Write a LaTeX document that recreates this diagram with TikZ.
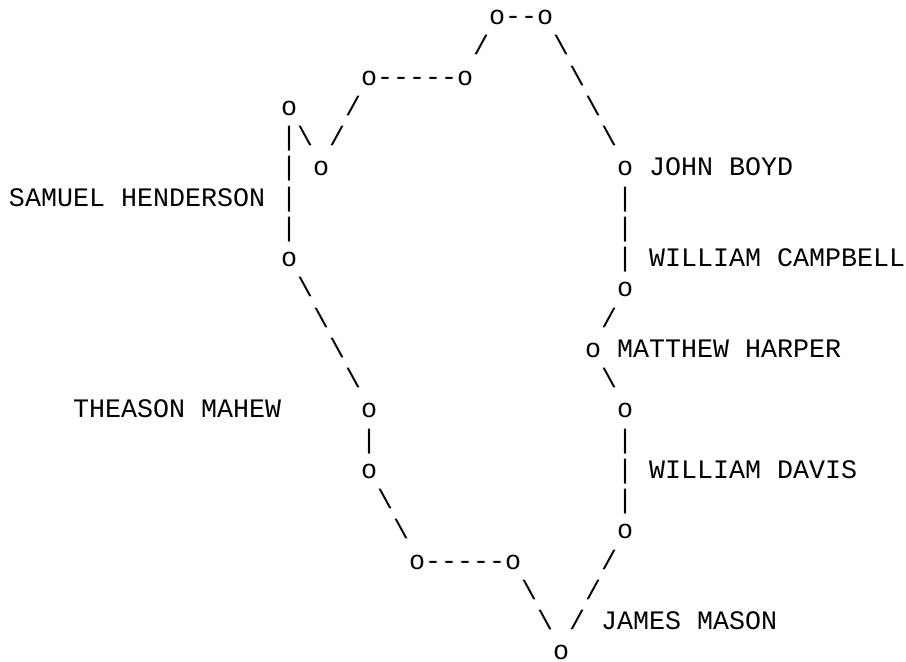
\documentclass[tikz,border=0pt]{standalone}
\usepackage{fontspec}
\setmonofont{Liberation Mono}
\tikzset{asc/.style={inner sep=0pt,outer sep=0pt,anchor=base west,font=\ttfamily\fontsize{26.67}{30.26}\selectfont,text=black}}
\newcommand\seg[4]{\node[asc] (#1) at ({9+16*#2},{24.5+30.26*#3}) {#4};}
\newcommand\bs{\textbackslash}
\begin{document}
\begin{tikzpicture}[x=1pt,y=-1pt]
\useasboundingbox[fill=white] (0,0) rectangle (906,662);
\seg{a0}{30}{0}{o--o}
\seg{a1}{29}{1}{/}
\seg{b1}{34}{1}{\bs}
\seg{a2}{22}{2}{o-----o}
\seg{b2}{35}{2}{\bs}
\seg{a3}{17}{3}{o}
\seg{b3}{21}{3}{/}
\seg{c3}{36}{3}{\bs}
\seg{a4}{17}{4}{|}
\seg{b4}{18}{4}{\bs}
\seg{c4}{20}{4}{/}
\seg{d4}{37}{4}{\bs}
\seg{a5}{17}{5}{|}
\seg{b5}{19}{5}{o}
\seg{c5}{38}{5}{o JOHN BOYD}
\seg{a6}{0}{6}{SAMUEL HENDERSON |}
\seg{b6}{38}{6}{|}
\seg{a7}{17}{7}{|}
\seg{b7}{38}{7}{|}
\seg{a8}{17}{8}{o}
\seg{b8}{38}{8}{| WILLIAM CAMPBELL}
\seg{a9}{18}{9}{\bs}
\seg{b9}{38}{9}{o}
\seg{a10}{19}{10}{\bs}
\seg{b10}{37}{10}{/}
\seg{a11}{20}{11}{\bs}
\seg{b11}{36}{11}{o MATTHEW HARPER}
\seg{a12}{21}{12}{\bs}
\seg{b12}{37}{12}{\bs}
\seg{a13}{4}{13}{THEASON MAHEW}
\seg{b13}{22}{13}{o}
\seg{c13}{38}{13}{o}
\seg{a14}{22}{14}{|}
\seg{b14}{38}{14}{|}
\seg{a15}{22}{15}{o}
\seg{b15}{38}{15}{| WILLIAM DAVIS}
\seg{a16}{23}{16}{\bs}
\seg{b16}{38}{16}{|}
\seg{a17}{24}{17}{\bs}
\seg{b17}{38}{17}{o}
\seg{a18}{25}{18}{o-----o}
\seg{b18}{37}{18}{/}
\seg{a19}{32}{19}{\bs}
\seg{b19}{36}{19}{/}
\seg{a20}{33}{20}{\bs{} / JAMES MASON}
\seg{a21}{34}{21}{o}
\end{tikzpicture}
\end{document}
